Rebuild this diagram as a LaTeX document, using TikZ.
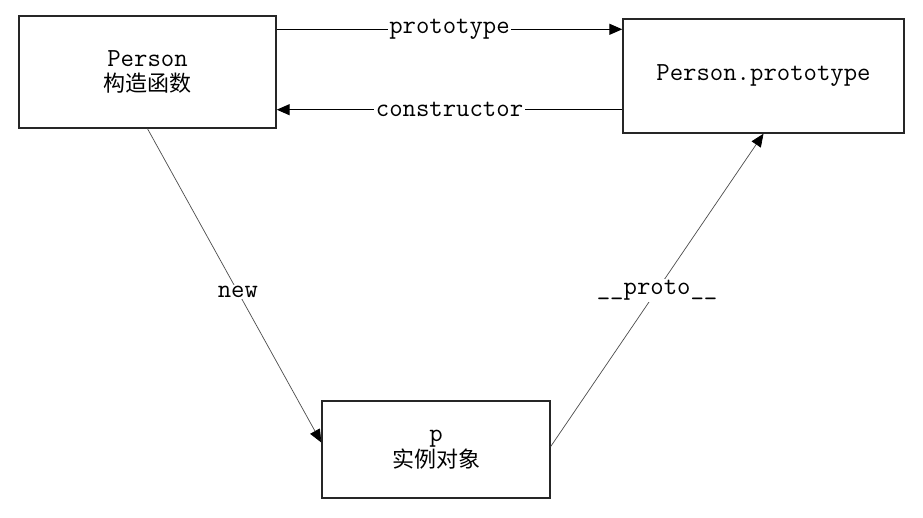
\documentclass[tikz,border=0pt]{standalone}
\usepackage{fontspec}
\newfontfamily\cjk{Noto Sans CJK SC}
\usetikzlibrary{arrows.meta,calc}
\begin{document}
\begin{tikzpicture}[x=1pt,y=1pt,
  box/.style={draw=black!85,line width=1.4pt,align=center,inner sep=0pt,
    font=\ttfamily\fontsize{26}{25}\selectfont},
  harr/.style={line width=1.2pt,-{Triangle[length=13pt,width=11pt]}},
  darr/.style={line width=0.7pt,draw=black!70,-{Triangle[length=13pt,width=11pt,color=black]}},
  lbl/.style={fill=white,inner sep=1.5pt,font=\ttfamily\fontsize{26}{25}\selectfont}]
\useasboundingbox[fill=white] (0,0) rectangle (923,517);
\node[box,minimum width=257pt,minimum height=112pt] (person) at (147.5,445)
  {Person\\{\cjk\fontsize{22}{25}\selectfont 构造函数}};
\node[box,minimum width=281pt,minimum height=114pt] (proto) at (763.5,441)
  {Person.prototype};
\node[box,minimum width=228pt,minimum height=97pt] (p) at (436,67.5)
  {p\\[1pt]{\cjk\fontsize{22}{25}\selectfont 实例对象}};
\coordinate (a1) at ([yshift=-14pt]person.north east);
\coordinate (a2) at ([yshift=24pt]proto.south west);
\draw[harr] (a1) -- (a1 -| proto.west) node[lbl,midway]{prototype};
\draw[harr] (a2) -- (a2 -| person.east) node[lbl,midway]{constructor};
\draw[darr] (person.south) -- ([yshift=7pt]p.west) node[lbl,pos=0.52]{new};
\draw[darr] ([yshift=3pt]p.east) -- (proto.south) node[lbl,midway]{\_\_proto\_\_};
\end{tikzpicture}
\end{document}
